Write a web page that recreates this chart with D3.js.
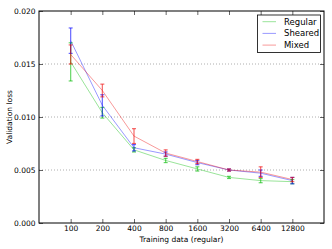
<!DOCTYPE html>
<html>
<head>
<meta charset="utf-8">
<script src="https://cdn.jsdelivr.net/npm/d3@7"></script>
<style>
  body { margin: 0; background: #fff; }
  text { font-family: "DejaVu Sans", sans-serif; fill: #000; }
</style>
</head>
<body>
<div id="graph"></div>
<script>
// data
var sizes = ["100", "200", "400", "800", "1600", "3200", "6400", "12800"];
var seriesNames = ["Regular", "Sheared", "Mixed"];
var seriesColors = ["#00bb00", "#0000ff", "#ee0000"];
var regular     = [0.0152, 0.0104, 0.0069, 0.0059, 0.0051, 0.0043, 0.0040, 0.0039];
var regularErr  = [0.0018, 0.0005, 0.0002, 0.0002, 0.0002, 0.0001, 0.0002, 0.0002];
var sheared     = [0.0172, 0.0111, 0.0071, 0.0065, 0.0057, 0.0050, 0.0047, 0.0040];
var shearedErr  = [0.0012, 0.0010, 0.0003, 0.0002, 0.0002, 0.0001, 0.0003, 0.0003];
var mixed       = [0.0159, 0.0125, 0.0082, 0.0066, 0.0058, 0.0050, 0.0048, 0.0041];
var mixedErr    = [0.0009, 0.0006, 0.0007, 0.0003, 0.0002, 0.0001, 0.0005, 0.0002];
var yTicks = [0, 0.005, 0.010, 0.015, 0.020];

var series = [
  {name: seriesNames[0], color: seriesColors[0], values: regular, errs: regularErr},
  {name: seriesNames[1], color: seriesColors[1], values: sheared, errs: shearedErr},
  {name: seriesNames[2], color: seriesColors[2], values: mixed, errs: mixedErr}
];

var margin = {top: 11, right: 8, bottom: 26, left: 39},
    width = 332 - margin.left - margin.right,
    height = 249 - margin.top - margin.bottom;

var svg = d3.select("#graph")
  .append("svg")
    .attr("width", 332)
    .attr("height", 249)
  .append("g")
    .attr("transform", "translate(" + margin.left + "," + margin.top + ")");

var x = d3.scaleLinear().domain([0, sizes.length + 1]).range([0, width]);
var y = d3.scaleLinear().domain([0, 0.02]).range([height, 0]);

// dotted gridlines
svg.append("g")
  .selectAll("line")
  .data(yTicks.slice(1, -1))
  .join("line")
    .attr("x1", 0).attr("x2", width)
    .attr("y1", function(d) { return y(d); })
    .attr("y2", function(d) { return y(d); })
    .attr("stroke", "#999")
    .attr("stroke-width", 0.8)
    .attr("stroke-dasharray", "1,2");

// axes (ticks pointing inward)
var xAxis = d3.axisBottom(x)
  .tickValues(d3.range(1, sizes.length + 1))
  .tickFormat(function(d) { return sizes[d - 1]; })
  .tickSize(-4).tickPadding(2.5);
var gx = svg.append("g")
  .attr("transform", "translate(0," + height + ")")
  .call(xAxis);

var gxTop = svg.append("g")
  .call(d3.axisTop(x).tickValues(d3.range(1, sizes.length + 1)).tickSize(-4).tickFormat(""));

var gy = svg.append("g")
  .call(d3.axisLeft(y).tickValues(yTicks).tickFormat(d3.format(".3f")).tickSize(-4).tickPadding(3.5));

var gyRight = svg.append("g")
  .attr("transform", "translate(" + width + ",0)")
  .call(d3.axisRight(y).tickValues(yTicks).tickSize(-4).tickFormat(""));

[gx, gxTop, gy, gyRight].forEach(function(g) {
  g.select(".domain").remove();
  g.selectAll(".tick line").attr("stroke", "#000").attr("stroke-width", 0.6);
  g.selectAll("text").attr("font-size", 7.5).attr("font-family", "DejaVu Sans");
});

// frame
svg.append("rect")
  .attr("width", width).attr("height", height)
  .attr("fill", "none").attr("stroke", "#000").attr("stroke-width", 1);

// lines
var line = d3.line()
  .x(function(d, i) { return x(i + 1); })
  .y(function(d) { return y(d); });

series.forEach(function(s) {
  svg.append("path")
    .datum(s.values)
    .attr("fill", "none")
    .attr("stroke", s.color)
    .attr("stroke-opacity", 0.4)
    .attr("stroke-width", 1)
    .attr("d", line);
});

// error bars
series.forEach(function(s) {
  var g = svg.append("g")
    .attr("stroke", s.color)
    .attr("stroke-opacity", 0.6)
    .attr("stroke-width", 1.2);
  s.values.forEach(function(v, i) {
    var cx = x(i + 1);
    var top = y(v + s.errs[i]), bot = y(v - s.errs[i]);
    g.append("line").attr("x1", cx).attr("x2", cx).attr("y1", top).attr("y2", bot);
    g.append("line").attr("x1", cx - 2).attr("x2", cx + 2).attr("y1", top).attr("y2", top);
    g.append("line").attr("x1", cx - 2).attr("x2", cx + 2).attr("y1", bot).attr("y2", bot);
  });
});

// axis labels
svg.append("text")
  .attr("x", width / 2)
  .attr("y", height + 18.5)
  .attr("text-anchor", "middle")
  .attr("font-size", 7.5)
  .text("Training data (regular)");

svg.append("text")
  .attr("transform", "translate(-27.5," + (height / 2) + ") rotate(-90)")
  .attr("text-anchor", "middle")
  .attr("font-size", 7.5)
  .text("Validation loss");

// legend
var lx = 218.5, ly = 4;
var legend = svg.append("g").attr("transform", "translate(" + lx + "," + ly + ")");
legend.append("rect")
  .attr("width", 63).attr("height", 37.5)
  .attr("fill", "#fff").attr("stroke", "#000").attr("stroke-width", 0.8);
series.forEach(function(s, i) {
  var yy = 6.7 + i * 11.7;
  legend.append("line")
    .attr("x1", 5).attr("x2", 18.5)
    .attr("y1", yy).attr("y2", yy)
    .attr("stroke", s.color).attr("stroke-opacity", 0.4);
  legend.append("text")
    .attr("x", 26.5).attr("y", yy + 3)
    .attr("font-size", 8.5)
    .text(s.name);
});
</script>
</body>
</html>
